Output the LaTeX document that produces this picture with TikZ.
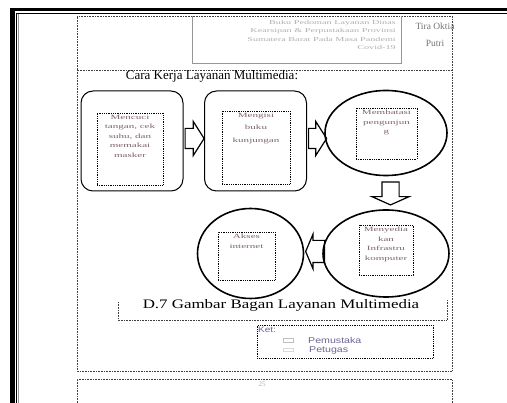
\documentclass[tikz,border=0pt]{standalone}
\usepackage{fontspec}
\setmainfont{Liberation Serif}
\setsansfont{Liberation Sans}
\newfontfamily\widefont[FakeStretch=1.7]{Liberation Serif}
\newfontfamily\capfont[FakeStretch=1.3]{Liberation Serif}
\newfontfamily\ketfont[FakeStretch=1.25]{Liberation Sans}
\usetikzlibrary{shapes.geometric, shapes.arrows, arrows, positioning}
\definecolor{inktext}{RGB}{125,100,110}
\definecolor{hdrgray}{RGB}{175,175,175}
\definecolor{rulegray}{RGB}{150,150,150}
\definecolor{ketink}{RGB}{105,100,150}
\newcommand{\flowtext}[3]{\parbox[t][#1][t]{#2}{\centering #3}}
\tikzstyle{flowbox} = [rectangle, rounded corners=12pt, minimum width=102pt, minimum height=100pt, draw=black, line width=1pt]
\tikzstyle{flowcirc} = [ellipse, minimum width=122pt, minimum height=85pt, draw=black, line width=1.6pt]
\tikzstyle{innerbox} = [rectangle, draw=black, densely dotted, line width=0.8pt, text=inktext, font=\widefont\fontsize{6.5}{9.5}\selectfont, inner sep=2pt]
\tikzstyle{blockarrow} = [single arrow, draw=black, line width=1.2pt, inner sep=0pt, text depth=0pt, single arrow head indent=0pt]
\tikzstyle{dotline} = [densely dotted, line width=0.6pt, draw=black!75]

\begin{document}
\begin{tikzpicture}[x=1pt, y=-1pt, node distance=123.5pt]
\useasboundingbox (0,0) rectangle (507,403);
% page frame
\fill[black] (10,8) rectangle (507,11);
\fill[black] (10,8) rectangle (15,403);
\draw[line width=0.7pt] (16.8,13) -- (507,13);
\draw[line width=0.7pt] (16.8,13) -- (16.8,403);
\draw[rulegray, line width=0.6pt] (18.5,14.5) -- (18.5,403);

% header
\draw[dotline] (77,70) -- (77,16) -- (452,16) -- (452,70);
\draw[rulegray, line width=0.6pt] (192,16) -- (192,63) -- (401,63) -- (401,16);
\node (hdr) [anchor=north east, align=right, text=hdrgray, inner sep=0pt, font=\widefont\fontsize{6}{8.4}\selectfont] at (396,20) {Buku Pedoman Layanan Dinas\\Kearsipan \& Perpustakaan Provinsi\\Sumatera Barat Pada Masa Pandemi\\Covid-19};
\node (author) [align=center, text=black!55, font=\fontsize{9.5}{17}\selectfont] at (435,35) {Tira Oktia\\Putri};

% main frame
\draw[dotline] (77,70) rectangle (452,371);
\node (title) [font=\fontsize{13}{14}\selectfont] at (212,76) {Cara Kerja Layanan Multimedia:};

% flow
\node (box1) [flowbox] at (132,141) {};
\node (box2) [flowbox, right of=box1] {};
\node (circ1) [flowcirc, right of=box2, xshift=7pt, yshift=8pt] {};
\node (circ2) [flowcirc, below of=circ1, yshift=3pt, minimum width=126pt, minimum height=87pt] {};
\node (circ3) [flowcirc, left of=circ2, xshift=-12pt, minimum width=106pt, minimum height=90pt] {};

\node (in1) [innerbox] at (130,149) {\flowtext{68pt}{62pt}{Mencuci\\tangan, cek\\suhu, dan\\memakai\\masker}};
\node (in2) [innerbox] at (256,147.5) {\flowtext{69pt}{64pt}{Mengisi\\[3pt] buku\\[3pt] kunjungan}};
\node (in3) [innerbox] at (386.5,133.5) {\flowtext{47pt}{57pt}{Membatasi\\pengunjun\\g}};
\node (in4) [innerbox] at (386,250) {\flowtext{46pt}{50pt}{Menyedia\\kan\\Infrastru\\komputer}};
\node (in5) [innerbox] at (246.5,256) {\flowtext{44pt}{53pt}{Akses\\internet}};

\node (a1) [blockarrow, right=1pt of box1, yshift=2.5pt, minimum height=19pt, text height=19pt, single arrow head extend=7pt, single arrow tip angle=115] {};
\node (a2) [blockarrow, right=1pt of box2, yshift=2.5pt, minimum height=18pt, text height=19pt, single arrow head extend=7pt, single arrow tip angle=115] {};
\node (a3) [blockarrow, rotate=-90, minimum height=23pt, text height=16pt, single arrow head extend=10pt, single arrow tip angle=132] at (390.5,191.5) {};
\node (a4) [blockarrow, shape border rotate=180, minimum height=19pt, text height=21pt, single arrow head extend=6pt, single arrow tip angle=134] at (317.5,251.5) {};

% caption
\draw[dotline] (118,302) -- (118,320) -- (447,320) -- (447,300);
\node (caption) [font=\capfont\fontsize{13}{14}\selectfont] at (281,305) {D.7 Gambar Bagan Layanan Multimedia};

% legend
\node (ket) [draw=black, densely dotted, line width=0.8pt, minimum width=176pt, minimum height=33pt, anchor=north west] at (257,325) {};
\node (kettitle) [anchor=north west, inner sep=1pt, text=ketink, font=\ketfont\fontsize{8}{9}\selectfont] at (257,326) {Ket:};
\node (sw1) [draw=black!25, minimum width=10pt, minimum height=4pt, inner sep=0pt] at (288,340) {};
\node (sw2) [draw=black!15, minimum width=10pt, minimum height=3pt, inner sep=0pt] at (288,350) {};
\node (lab1) [anchor=west, inner sep=0pt, text=ketink, font=\ketfont\fontsize{8.5}{9}\selectfont] at (308,340) {Pemustaka};
\node (lab2) [anchor=west, inner sep=0pt, text=ketink, font=\ketfont\fontsize{8.5}{9}\selectfont] at (309,350) {Petugas};

% footer
\draw[dotline] (77,403) -- (77,379) -- (452,379) -- (452,403);
\node (pageno) [text=hdrgray, font=\fontsize{7}{8}\selectfont] at (262,384) {25};
\end{tikzpicture}
\end{document}
